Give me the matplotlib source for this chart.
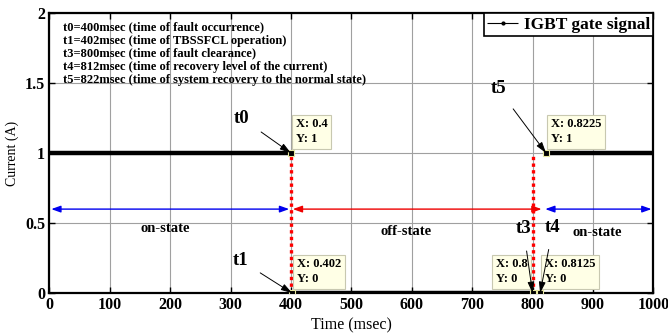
import matplotlib.pyplot as plt

plt.rcParams['font.family'] = 'Liberation Serif'
plt.rcParams['font.weight'] = 'bold'
plt.rcParams['font.size'] = 11

# gate signal levels between switching instants (msec)
edge_ms = [0, 400, 402, 812.5, 822.5, 1000]
gate_level = [1, 1, 0, 0, 1, 1]

# fault occurrence / clearance instants (red dotted lines)
fault_ms = [400, 800]

# data tips on the signal
tip_names = ['t0', 't1', 't3', 't4', 't5']
tip_ms = [400, 402, 800, 812.5, 822.5]
tip_level = [1, 0, 0, 0, 1]

# switch states along the time axis
state_bounds = [0, 400, 818, 1000]
state_names = ['on-state', 'off-state', 'on-state']
state_colors = ['#0000EE', '#EE0000', '#0000EE']

notes = ['t0=400msec (time of fault occurrence)',
         't1=402msec (time of TBSSFCL operation)',
         't3=800msec (time of fault clearance)',
         't4=812msec (time of recovery level of the current)',
         't5=822msec (time of system recovery to the normal state)']

fig = plt.figure(figsize=(6.68, 3.35), dpi=100)
ax = fig.add_axes([0.074, 0.125, 0.904, 0.836])

# signal drawn as separate flat segments
for i in range(0, len(edge_ms), 2):
    ax.plot(edge_ms[i:i + 2], gate_level[i:i + 2], color='black', lw=3.2,
            solid_capstyle='butt', zorder=3,
            label='IGBT gate signal' if i == 0 else None)

for f in fault_ms:
    ax.plot([f, f], [0, 1], color='red', lw=2.4, linestyle=(0, (1, 1)), zorder=4)

# state arrows and names
for k, name in enumerate(state_names):
    a, b = state_bounds[k], state_bounds[k + 1]
    ax.annotate('', xy=(a + 3, 0.6), xytext=(b - 3, 0.6),
                arrowprops=dict(arrowstyle='<|-|>,head_length=0.5,head_width=0.18',
                                color=state_colors[k], lw=1, shrinkA=0, shrinkB=0))
label_x = [191, 590, 907]
label_y = [0.46, 0.44, 0.43]
for name, lx, ly in zip(state_names, label_x, label_y):
    ax.text(lx, ly, name, ha='center', va='center', fontsize=10.5)

# data tips
tip_dx = {'t3': -37}
for name, x, y in zip(tip_names, tip_ms, tip_level):
    ax.plot(x, y, marker='s', ms=4, mfc='black', mec='#E8E8A0', mew=0.8, zorder=6)
    ax.annotate('X: %g\nY: %g' % (x / 1000, y), xy=(x, y),
                xytext=(tip_dx.get(name, 5), 8), textcoords='offset pixels',
                ha='left', va='bottom', fontsize=9, linespacing=1.3,
                bbox=dict(boxstyle='square,pad=0.3', fc='#FFFFE6', ec='#C8C8B0', lw=0.8),
                zorder=7)

# event labels with pointer arrows
label_pos = [(318, 1.25), (316, 0.235), (785, 0.46), (834, 0.47), (743, 1.46)]
for name, x, y, (tx, ty) in zip(tip_names, tip_ms, tip_level, label_pos):
    ax.annotate(name, xy=(x, y), xytext=(tx, ty), fontsize=13.5,
                ha='center', va='center', zorder=8,
                arrowprops=dict(arrowstyle='-|>,head_length=0.5,head_width=0.15',
                                color='black', lw=0.7, shrinkA=8, shrinkB=0))

ax.text(23, 1.94, '\n'.join(notes), fontsize=9, va='top', ha='left', linespacing=1.12)

ax.set_xlim(0, 1000)
ax.set_ylim(0, 2)
ax.set_xticks(range(0, 1001, 100))
ax.set_yticks([0, 0.5, 1, 1.5, 2])
ax.set_yticklabels(['0', '0.5', '1', '1.5', '2'])
ax.grid(True, color='#A0A0A0', lw=0.8)
ax.set_axisbelow(True)
ax.tick_params(direction='in', length=4, width=1, top=True, right=True, labelsize=11.5, pad=3)
for s in ax.spines.values():
    s.set_linewidth(1.6)

ax.set_xlabel('Time (msec)', fontsize=11.5, labelpad=3)
ax.set_ylabel('Current (A)', fontsize=10, labelpad=4)

leg = ax.legend(loc='upper right', fontsize=12.5, handlelength=1.8, handletextpad=0.3,
                borderpad=0.2, borderaxespad=0, fancybox=False, framealpha=1)
leg.get_frame().set_edgecolor('black')
leg.get_frame().set_linewidth(1.2)
for h in leg.legend_handles:
    h.set_linewidth(0.8)
    h.set_marker('.')
    h.set_markersize(4)

fig.savefig('out.png', dpi=100)
